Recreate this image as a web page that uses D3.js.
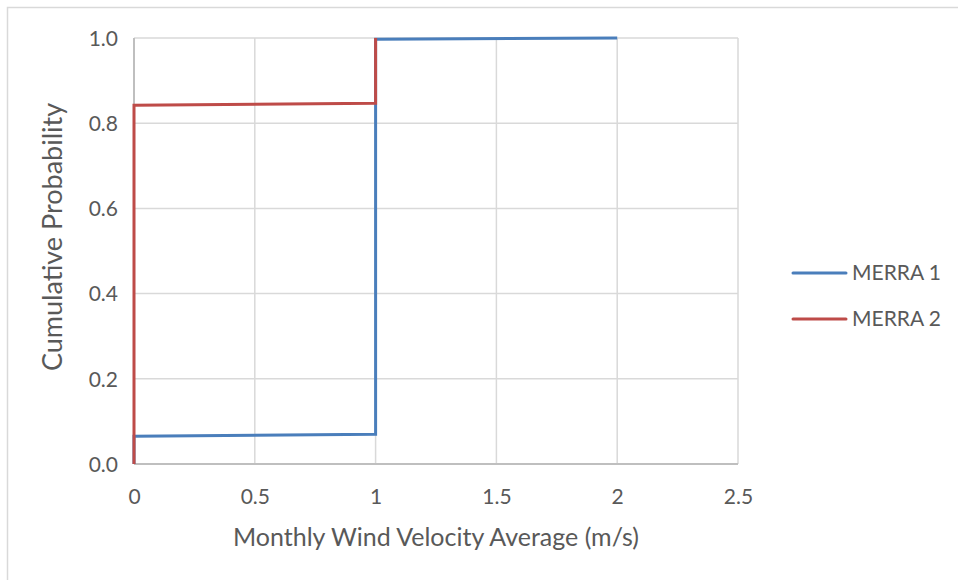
<!DOCTYPE html>
<html>
<head>
<meta charset="utf-8">
<script src="https://cdn.jsdelivr.net/npm/d3@7"></script>
<style>
  html, body { margin: 0; padding: 0; background: #fff; }
  svg { display: block; }
  text { font-family: Lato, "Open Sans", sans-serif; fill: #595959; }
</style>
</head>
<body>
<svg id="chart" width="958" height="580"></svg>
<script>
// Cumulative distribution of monthly wind velocity averages
const merra1X = [0, 0, 1, 1, 2];
const merra1Y = [0, 0.065, 0.07, 0.997, 1.0];
const merra2X = [0, 0, 1, 1];
const merra2Y = [0, 0.842, 0.847, 1.0];
const seriesNames = ["MERRA 1", "MERRA 2"];
const seriesColors = ["#4A7EBB", "#BE4B48"];
const xTicks = [0, 0.5, 1, 1.5, 2, 2.5];
const yTicks = [0, 0.2, 0.4, 0.6, 0.8, 1.0];

const svg = d3.select("#chart");

// outer chart frame
svg.append("rect")
  .attr("x", 7.5).attr("y", 7.5)
  .attr("width", 1000).attr("height", 1000)
  .attr("fill", "none").attr("stroke", "#d9d9d9").attr("stroke-width", 1.5);

const margin = { left: 134, right: 738, top: 38, bottom: 464 };
const x = d3.scaleLinear().domain([0, 2.5]).range([margin.left, margin.right]);
const y = d3.scaleLinear().domain([0, 1]).range([margin.bottom, margin.top]);

// gridlines
svg.append("g").selectAll("line").data(xTicks.slice(1)).join("line")
  .attr("x1", d => x(d)).attr("x2", d => x(d))
  .attr("y1", y(0)).attr("y2", y(1))
  .attr("stroke", "#d9d9d9").attr("stroke-width", 1.5);
svg.append("g").selectAll("line").data(yTicks.slice(1)).join("line")
  .attr("x1", x(0)).attr("x2", x(2.5))
  .attr("y1", d => y(d)).attr("y2", d => y(d))
  .attr("stroke", "#d9d9d9").attr("stroke-width", 1.5);

// axis lines
svg.append("line")
  .attr("x1", x(0)).attr("x2", x(2.5)).attr("y1", y(0)).attr("y2", y(0))
  .attr("stroke", "#bfbfbf").attr("stroke-width", 2);
svg.append("line")
  .attr("x1", x(0)).attr("x2", x(0)).attr("y1", y(0)).attr("y2", y(1))
  .attr("stroke", "#bfbfbf").attr("stroke-width", 2);

// tick labels
const xAxis = d3.axisBottom(x).tickValues(xTicks).tickSize(0).tickPadding(0)
  .tickFormat(d => d3.format("")(d));
const gx = svg.append("g").attr("transform", `translate(0,${y(0)})`).call(xAxis);
gx.select(".domain").remove();
gx.selectAll("text").attr("dy", null).attr("y", 40)
  .style("font-size", "21px").style("font-family", "Lato, sans-serif").attr("fill", "#595959");

const yAxis = d3.axisLeft(y).tickValues(yTicks).tickSize(0).tickPadding(0)
  .tickFormat(d3.format(".1f"));
const gy = svg.append("g").attr("transform", `translate(${x(0) - 16},0)`).call(yAxis);
gy.select(".domain").remove();
gy.selectAll("text").attr("dy", "0.35em")
  .style("font-size", "21px").style("font-family", "Lato, sans-serif").attr("fill", "#595959");

// series lines
const line = d3.line().x(d => x(d[0])).y(d => y(d[1]));
const series = [
  d3.zip(merra1X, merra1Y),
  d3.zip(merra2X, merra2Y)
];
svg.append("g").selectAll("path").data(series).join("path")
  .attr("d", line)
  .attr("fill", "none")
  .attr("stroke", (d, i) => seriesColors[i])
  .attr("stroke-width", 3)
  .attr("stroke-linejoin", "miter");

// axis titles
svg.append("text")
  .attr("x", 436).attr("y", 546)
  .attr("text-anchor", "middle")
  .style("font-size", "25px")
  .text("Monthly Wind Velocity Average (m/s)");
svg.append("text")
  .attr("transform", "translate(62,237) rotate(-90)")
  .attr("text-anchor", "middle")
  .style("font-size", "27px")
  .text("Cumulative Probability");

// legend
const legend = svg.append("g").selectAll("g").data(seriesNames).join("g")
  .attr("transform", (d, i) => `translate(793,${273 + i * 46})`);
legend.append("line")
  .attr("x1", 0).attr("x2", 53).attr("y1", 0).attr("y2", 0)
  .attr("stroke", (d, i) => seriesColors[i])
  .attr("stroke-width", 3).attr("stroke-linecap", "round");
legend.append("text")
  .attr("x", 59).attr("y", 0).attr("dy", "0.35em")
  .style("font-size", "21px")
  .text(d => d);
</script>
</body>
</html>
